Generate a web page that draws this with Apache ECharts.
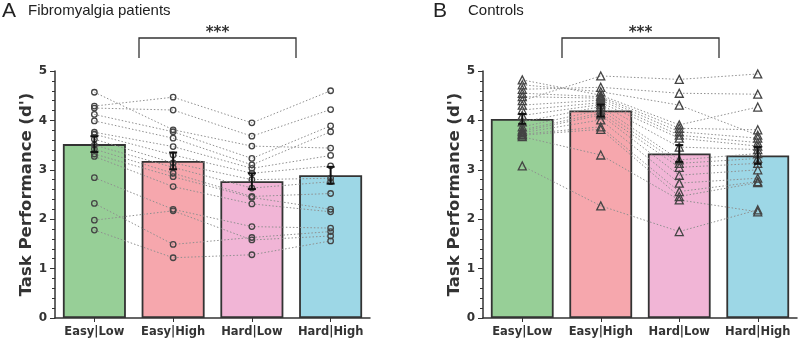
<!DOCTYPE html>
<html>
<head>
<meta charset="utf-8">
<script src="https://cdn.jsdelivr.net/npm/echarts@6/dist/echarts.min.js"></script>
<style>
  html, body { margin: 0; padding: 0; background: #fff; }
  #chart { width: 799px; height: 341px; }
</style>
</head>
<body>
<div id="chart"></div>
<script>
var categories = ['Easy|Low', 'Easy|High', 'Hard|Low', 'Hard|High']
var barColors = ['#97cf97', '#f6a7ad', '#f1b5d6', '#9dd7e6']

// panel A: fibromyalgia patients, one entry per subject
var fmEasyLow = [4.57, 4.29, 4.25, 4.12, 3.99, 3.76, 3.72, 3.62, 3.50, 3.42, 3.32, 3.27, 2.84, 2.32, 1.98, 1.78]
var fmEasyHigh = [3.81, 4.47, 4.21, 3.77, 3.64, 3.47, 3.30, 3.14, 3.05, 2.93, 2.86, 2.66, 2.20, 1.49, 2.17, 1.22]
var fmHardLow = [3.48, 3.95, 3.68, 3.23, 3.10, 3.03, 2.93, 2.80, 2.63, 2.46, 2.44, 2.31, 1.85, 1.63, 1.58, 1.28]
var fmHardHigh = [3.44, 4.60, 4.22, 3.89, 3.77, 3.29, 3.08, 2.83, 2.76, 2.52, 2.20, 2.15, 1.82, 1.75, 1.66, 1.56]
var fmMeans = [3.52, 3.18, 2.77, 2.89]
var fmSem = [0.16, 0.17, 0.16, 0.17]

// panel B: controls
var ctEasyLow = [4.40, 4.63, 4.72, 4.82, 4.55, 4.48, 4.31, 4.21, 4.10, 3.97, 3.87, 3.81, 3.78, 3.75, 3.72, 3.70, 3.67, 3.08]
var ctEasyHigh = [4.90, 4.67, 4.58, 4.51, 4.48, 4.45, 4.41, 4.36, 4.32, 4.28, 4.21, 4.15, 4.11, 4.01, 3.87, 3.82, 3.30, 2.27]
var ctHardLow = [4.83, 4.55, 4.31, 3.91, 3.84, 3.77, 3.70, 3.64, 3.46, 3.20, 3.13, 3.05, 2.89, 2.73, 2.56, 2.46, 2.39, 1.75]
var ctHardHigh = [4.94, 4.53, 3.70, 4.27, 3.81, 3.64, 3.55, 3.48, 3.41, 3.33, 3.23, 3.13, 3.00, 2.83, 2.76, 2.74, 2.15, 2.19]
var ctMeans = [4.03, 4.20, 3.33, 3.29]
var ctSem = [0.10, 0.12, 0.17, 0.17]

var font = 'DejaVu Sans'
var myChart = echarts.init(document.getElementById('chart'))

function makeX (idx) {
  return {
    type: 'category',
    gridIndex: idx,
    data: categories,
    axisLine: { lineStyle: { color: '#333', width: 1.5 } },
    axisTick: { show: true, alignWithLabel: true, length: 4, lineStyle: { color: '#333' } },
    axisLabel: { interval: 0, color: '#333', fontWeight: 'bold', fontSize: 11.5, fontFamily: font, margin: 8 }
  }
}

function makeY (idx) {
  return {
    type: 'value',
    gridIndex: idx,
    min: 0,
    max: 5,
    interval: 1,
    name: "Task Performance (d')",
    nameLocation: 'middle',
    nameGap: 20,
    nameTextStyle: { color: '#333', fontWeight: 'bold', fontSize: 16.5, fontFamily: font },
    axisLine: { show: true, lineStyle: { color: '#333', width: 1.5 } },
    axisTick: { show: true, length: 5, lineStyle: { color: '#333' } },
    minorTick: { show: true, splitNumber: 5, length: 3, lineStyle: { color: '#333' } },
    splitLine: { show: false },
    axisLabel: { color: '#333', fontWeight: 'bold', fontSize: 12, fontFamily: font, margin: 8 }
  }
}

function barSeries (idx, means) {
  return {
    type: 'bar',
    xAxisIndex: idx,
    yAxisIndex: idx,
    barWidth: '80%',
    z: 1,
    data: means.map(function (v, i) {
      return { value: v, itemStyle: { color: barColors[i] } }
    }),
    itemStyle: { borderColor: '#333', borderWidth: 1.8 }
  }
}

function subjectSeries (idx, conds, symbol, size) {
  var out = []
  for (var s = 0; s < conds[0].length; s++) {
    out.push({
      type: 'line',
      xAxisIndex: idx,
      yAxisIndex: idx,
      z: 3,
      data: conds.map(function (c) { return c[s] }),
      symbol: symbol,
      symbolSize: size,
      lineStyle: { type: [1.5, 2], color: '#8f8f8f', width: 1 },
      itemStyle: { color: 'rgba(0,0,0,0)', borderColor: '#444', borderWidth: 1.3 },
      emphasis: { disabled: true },
      silent: true
    })
  }
  return out
}

function errorSeries (idx, means, sem) {
  return {
    type: 'custom',
    xAxisIndex: idx,
    yAxisIndex: idx,
    z: 5,
    silent: true,
    data: means.map(function (m, i) { return [i, m, sem[i]] }),
    renderItem: function (params, api) {
      var x = api.value(0)
      var m = api.value(1)
      var e = api.value(2)
      var top = api.coord([x, m + e])
      var bot = api.coord([x, m - e])
      var w = 4
      var st = { stroke: '#111', lineWidth: 2 }
      return {
        type: 'group',
        children: [
          { type: 'line', shape: { x1: top[0], y1: top[1], x2: bot[0], y2: bot[1] }, style: st },
          { type: 'line', shape: { x1: top[0] - w, y1: top[1], x2: top[0] + w, y2: top[1] }, style: st },
          { type: 'line', shape: { x1: bot[0] - w, y1: bot[1], x2: bot[0] + w, y2: bot[1] }, style: st }
        ]
      }
    }
  }
}

function bracket (x1, x2) {
  return [
    {
      type: 'polyline',
      shape: { points: [[x1, 58], [x1, 38], [x2, 38], [x2, 58]] },
      style: { stroke: '#333', lineWidth: 1.3, fill: null }
    },
    {
      type: 'text',
      x: (x1 + x2) / 2,
      y: 26,
      style: { text: '***', fontSize: 15, fontWeight: 'bold', fontFamily: font, fill: '#333', textAlign: 'center' }
    }
  ]
}

var series = [barSeries(0, fmMeans), barSeries(1, ctMeans)]
series = series.concat(subjectSeries(0, [fmEasyLow, fmEasyHigh, fmHardLow, fmHardHigh], 'circle', 5.5))
series = series.concat(subjectSeries(1, [ctEasyLow, ctEasyHigh, ctHardLow, ctHardHigh], 'triangle', 8))
series.push(errorSeries(0, fmMeans, fmSem))
series.push(errorSeries(1, ctMeans, ctSem))

var option = {
  animation: false,
  grid: [
    { left: 55, width: 315, top: 71, bottom: 23 },
    { left: 483, width: 314, top: 71, bottom: 23 }
  ],
  xAxis: [makeX(0), makeX(1)],
  yAxis: [makeY(0), makeY(1)],
  series: series,
  graphic: [
    { type: 'text', x: 2, y: 1, style: { text: 'A', fontSize: 21, fontFamily: 'Liberation Sans', fill: '#222' } },
    { type: 'text', x: 28, y: 3, style: { text: 'Fibromyalgia patients', fontSize: 15, fontFamily: 'Liberation Sans', fill: '#222' } },
    { type: 'text', x: 433, y: 1, style: { text: 'B', fontSize: 21, fontFamily: 'Liberation Sans', fill: '#222' } },
    { type: 'text', x: 468, y: 3, style: { text: 'Controls', fontSize: 15, fontFamily: 'Liberation Sans', fill: '#222' } }
  ].concat(bracket(139, 296)).concat(bracket(562, 719))
}
myChart.setOption(option)
</script>
</body>
</html>
